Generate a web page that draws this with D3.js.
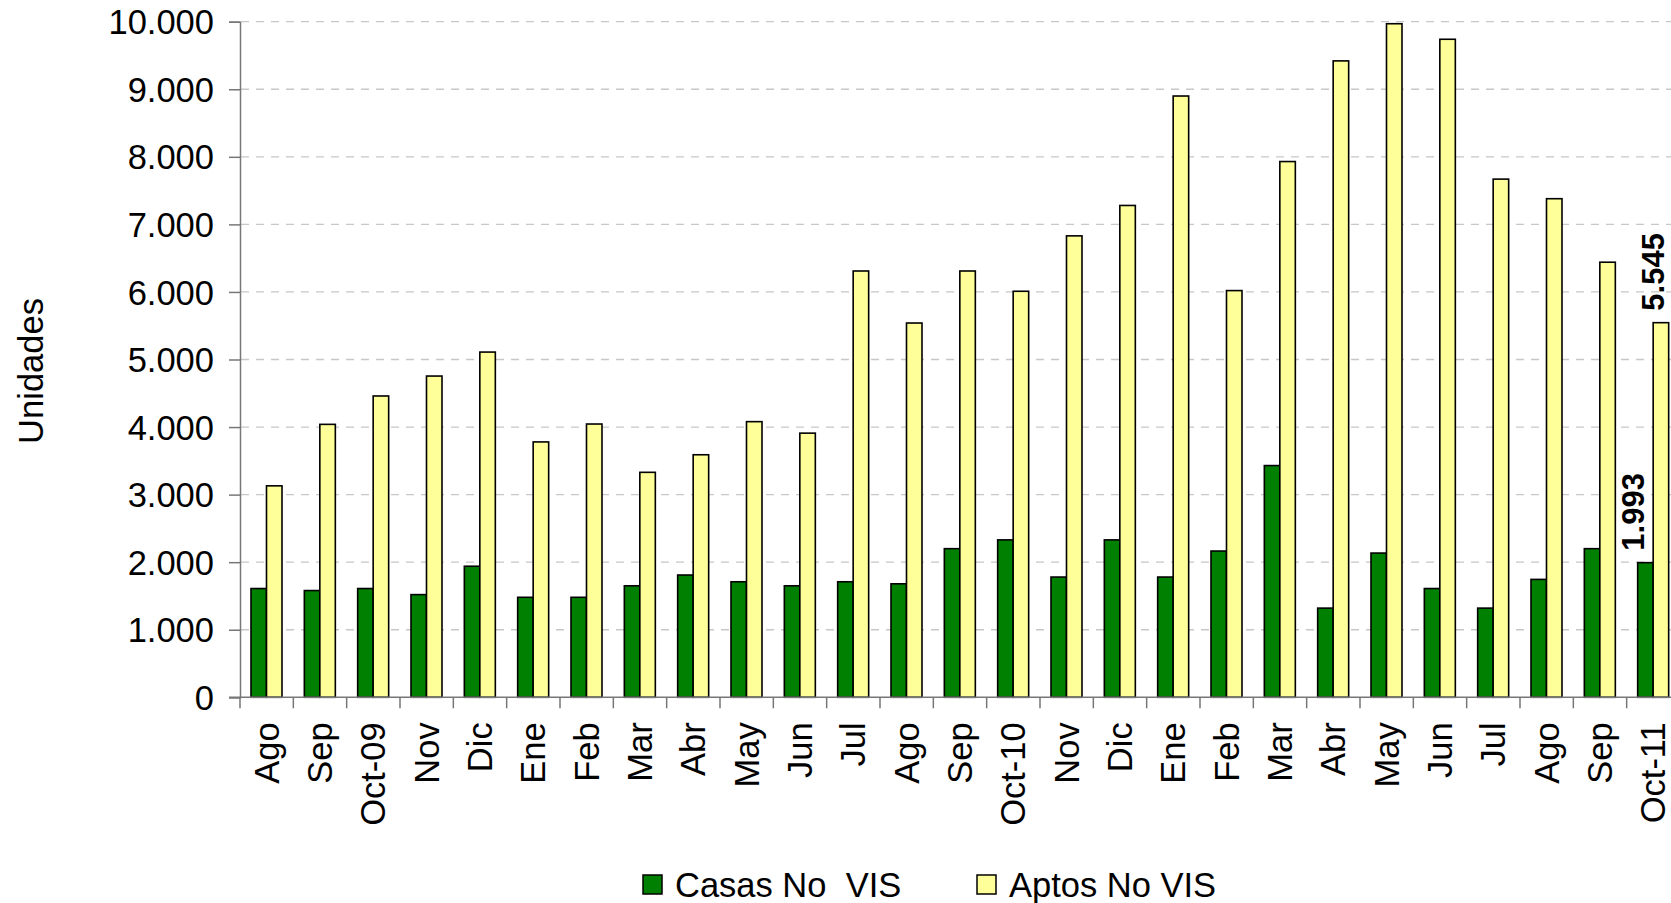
<!DOCTYPE html>
<html>
<head>
<meta charset="utf-8">
<script src="https://cdnjs.cloudflare.com/ajax/libs/d3/7.8.5/d3.min.js"></script>
<style>
  body { margin: 0; background: #fff; }
  svg { display: block; font-family: "Liberation Sans", Arial, sans-serif; }
</style>
</head>
<body>
<div id="chart"></div>
<script>
// months, Aug 2009 .. Oct 2011
var categories = ["Ago", "Sep", "Oct-09", "Nov", "Dic", "Ene", "Feb", "Mar", "Abr", "May", "Jun", "Jul",
                  "Ago", "Sep", "Oct-10", "Nov", "Dic", "Ene", "Feb", "Mar", "Abr", "May", "Jun", "Jul",
                  "Ago", "Sep", "Oct-11"];
var casas = [1610, 1580, 1610, 1520, 1940, 1480, 1480, 1650, 1810, 1710, 1650, 1710,
             1680, 2200, 2330, 1780, 2330, 1780, 2165, 3430, 1320, 2135, 1610, 1320,
             1745, 2200, 1993];
var aptos = [3130, 4040, 4460, 4755, 5110, 3780, 4045, 3330, 3590, 4080, 3910, 6310,
             5540, 6310, 6010, 6830, 7280, 8900, 6020, 7930, 9420, 9970, 9740, 7670,
             7380, 6440, 5545];
var seriesNames = ["Casas No  VIS", "Aptos No VIS"];
var yTicks = [0, 1000, 2000, 3000, 4000, 5000, 6000, 7000, 8000, 9000, 10000];

var width = 1671, height = 903;
var colors = ["#008000", "#ffff99"];
var fontSize = 34.5;

var svg = d3.select("#chart").append("svg")
  .attr("width", width)
  .attr("height", height);

var x0 = d3.scaleBand()
  .domain(d3.range(categories.length))
  .range([240, 1680]);

var x1 = d3.scaleBand()
  .domain([0, 1])
  .range([11, 42]);

var y = d3.scaleLinear()
  .domain([0, 10000])
  .range([697.3, 21.7]);

var fmt = function(v) { return d3.format(",")(v).replace(/,/g, "."); };

// dashed grid
svg.append("g")
  .selectAll("line")
  .data(yTicks.slice(1))
  .enter().append("line")
  .attr("x1", 241).attr("x2", width)
  .attr("y1", function(d) { return y(d); })
  .attr("y2", function(d) { return y(d); })
  .style("stroke", "#c8c8c8")
  .style("stroke-width", 1.3)
  .style("stroke-dasharray", "8,7");

// bars
var groups = svg.append("g")
  .selectAll("g")
  .data(categories.map(function(c, i) { return {i: i, vals: [casas[i], aptos[i]]}; }))
  .enter().append("g")
  .attr("transform", function(d) { return "translate(" + x0(d.i) + ",0)"; });

groups.selectAll("rect")
  .data(function(d) { return d.vals.map(function(v, k) { return {k: k, v: v}; }); })
  .enter().append("rect")
  .attr("x", function(d) { return x1(d.k); })
  .attr("width", x1.bandwidth())
  .attr("y", function(d) { return y(d.v); })
  .attr("height", function(d) { return y(0) - y(d.v); })
  .style("fill", function(d) { return colors[d.k]; })
  .style("stroke", "#000")
  .style("stroke-width", 1.6);

// y axis
var yAxis = svg.append("g")
  .attr("transform", "translate(240,0)")
  .call(d3.axisLeft(y).tickValues(yTicks).tickSize(11).tickPadding(15).tickFormat(fmt));
yAxis.select(".domain").style("stroke", "#777").style("stroke-width", 1.5);
yAxis.selectAll(".tick line").style("stroke", "#777").style("stroke-width", 1.5);
yAxis.selectAll("text")
  .style("font-size", fontSize + "px")
  .style("font-family", "Liberation Sans, Arial, sans-serif")
  .attr("dy", "0.35em")
  .style("fill", "#000");

// x axis: ticks at band boundaries
var xAxis = svg.append("g").attr("transform", "translate(0," + y(0) + ")");
xAxis.append("line")
  .attr("x1", 229).attr("x2", width)
  .style("stroke", "#777").style("stroke-width", 1.5);
xAxis.selectAll("line.tk")
  .data(d3.range(categories.length + 1))
  .enter().append("line")
  .attr("class", "tk")
  .attr("x1", function(i) { return 240 + i * x0.step(); })
  .attr("x2", function(i) { return 240 + i * x0.step(); })
  .attr("y1", 0).attr("y2", 11)
  .style("stroke", "#777").style("stroke-width", 1.5);
xAxis.selectAll("text")
  .data(categories)
  .enter().append("text")
  .attr("transform", function(d, i) {
    return "translate(" + (x0(i) + x0.bandwidth() / 2) + ",25) rotate(-90)";
  })
  .attr("text-anchor", "end")
  .attr("dy", "0.35em")
  .style("font-size", fontSize + "px")
  .text(function(d) { return d; });

// value labels on the last month
var last = categories.length - 1;
var labelData = [
  {v: casas[last], k: 0, shift: -12},
  {v: aptos[last], k: 1, shift: -8}
];
svg.selectAll("text.val")
  .data(labelData)
  .enter().append("text")
  .attr("class", "val")
  .attr("transform", function(d) {
    var cx = x0(last) + x1(d.k) + x1.bandwidth() / 2 + d.shift;
    return "translate(" + cx + "," + (y(d.v) - 12) + ") rotate(-90)";
  })
  .attr("dy", "0.35em")
  .style("font-size", "31px")
  .style("font-weight", "bold")
  .text(function(d) { return fmt(d.v); });

// y title
svg.append("text")
  .attr("transform", "translate(31,371) rotate(-90)")
  .attr("text-anchor", "middle")
  .attr("dy", "0.35em")
  .style("font-size", fontSize + "px")
  .text("Unidades");

// legend
var legendX = [643, 977];
var legend = svg.selectAll("g.legend")
  .data(seriesNames)
  .enter().append("g")
  .attr("class", "legend")
  .attr("transform", function(d, i) { return "translate(" + legendX[i] + ",875)"; });
legend.append("rect")
  .attr("width", 19).attr("height", 19)
  .style("fill", function(d, i) { return colors[i]; })
  .style("stroke", "#000").style("stroke-width", 1.5);
legend.append("text")
  .attr("x", 32).attr("y", 10)
  .attr("dy", "0.35em")
  .style("font-size", fontSize + "px")
  .style("white-space", "pre")
  .attr("xml:space", "preserve")
  .text(function(d) { return d; });
</script>
</body>
</html>
